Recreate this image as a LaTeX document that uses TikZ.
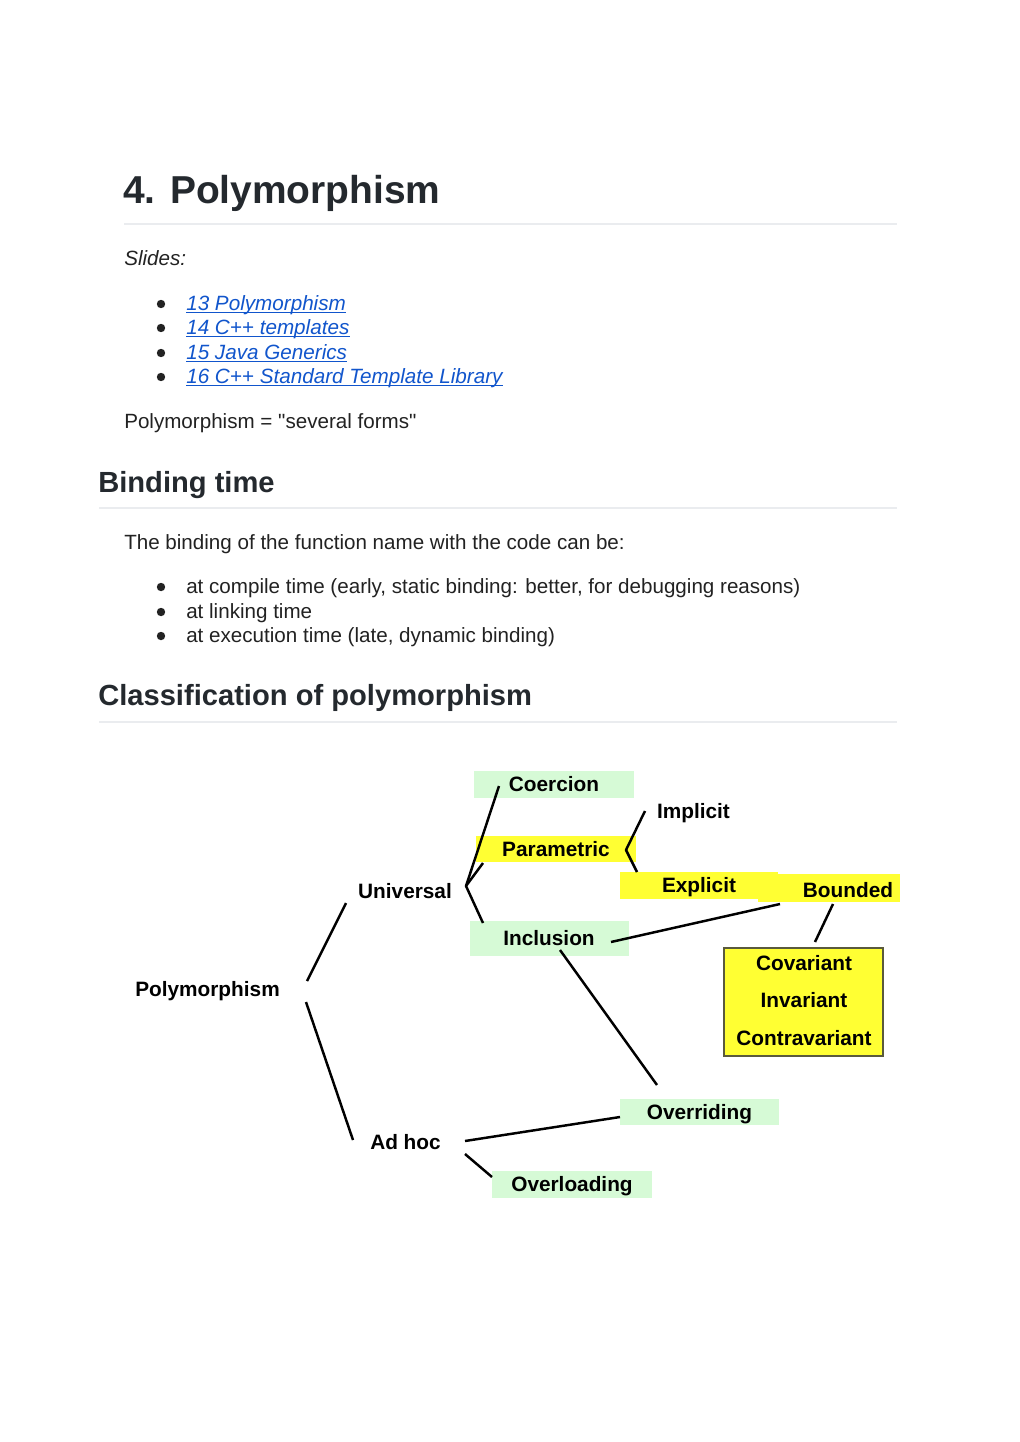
\documentclass[tikz,border=0pt]{standalone}
\usepackage{fontspec}
\setmainfont{Liberation Sans}
\newfontfamily\plainsans{Liberation Sans}
\definecolor{textc}{RGB}{34,34,34}
\definecolor{titlec}{RGB}{36,41,46}
\definecolor{linkc}{RGB}{17,85,204}
\definecolor{rulec}{RGB}{234,236,239}
\definecolor{greenc}{RGB}{214,250,214}
\definecolor{yellowc}{RGB}{255,255,51}
\definecolor{borderc}{RGB}{90,90,60}
\newcommand{\dq}{{\plainsans"}}
\begin{document}
\begin{tikzpicture}[x=0.75pt,y=-0.75pt,
  txt/.style={anchor=base west, inner sep=0pt, text=textc, font=\fontsize{15.45}{18}\selectfont},
  hone/.style={txt, text=titlec, font=\fontsize{29.2}{34}\selectfont\bfseries},
  htwo/.style={txt, text=titlec, font=\fontsize{21.85}{26}\selectfont\bfseries},
  lnk/.style={txt, text=linkc, font=\fontsize{15.5}{18}\selectfont\itshape},
  bul/.style={circle, fill=textc, inner sep=0pt, minimum size=6.3pt},
  hrule/.style={draw=rulec, line width=0.9pt},
  lbl/.style={anchor=base, inner sep=0pt, text=black, font=\fontsize{15.6}{18}\selectfont\bfseries},
  box/.style={rectangle, inner sep=0pt, text=black, text height=11.1pt, text depth=0pt, font=\fontsize{15.6}{18}\selectfont\bfseries},
  gbox/.style={box, fill=greenc},
  ybox/.style={box, fill=yellowc},
  conn/.style={line width=1.85pt, black, line join=round}
]
\useasboundingbox (0,0) rectangle (1020,1442);
\fill[white] (0,0) rectangle (1020,1442);

% Title
\node[hone] (title) at (123,203) {4. Polymorphism};
\draw[hrule] (124,224) -- (897,224);
\node[txt, font=\fontsize{15.45}{18}\selectfont\itshape] (slides) at (124,265) {Slides:};
\node[bul] (b1) at (161,304) {};
\node[bul] (b2) at (161,328) {};
\node[bul] (b3) at (161,353) {};
\node[bul] (b4) at (161,377) {};
\node[lnk] (l1) at (186,310) {13 Polymorphism};
\node[lnk] (l2) at (186,334) {14 C++ templates};
\node[lnk] (l3) at (186,359) {15 Java Generics};
\node[lnk] (l4) at (186,383) {16 C++ Standard Template Library};
\foreach \n in {l1,l2,l3,l4}{
  \draw[linkc, line width=0.8pt] ([yshift=-1.6pt]\n.base west) -- ([yshift=-1.6pt]\n.base east);
}
\node[txt] (def) at (124,428) {Polymorphism = \dq several forms\dq};

% Binding time
\node[htwo] (bt) at (98,492) {Binding time};
\draw[hrule] (99,508) -- (897,508);
\node[txt] (btp) at (124,549) {The binding of the function name with the code can be:};
\node[bul] (c1) at (161,587) {};
\node[bul] (c2) at (161,612) {};
\node[bul] (c3) at (161,636) {};
\node[txt] (bt1) at (186,593) {at compile time (early, static binding: better, for debugging reasons)};
\node[txt] (bt2) at (186,618) {at linking time};
\node[txt] (bt3) at (186,642) {at execution time (late, dynamic binding)};

% Classification
\node[htwo] (cl) at (98,705) {Classification of polymorphism};
\draw[hrule] (99,722) -- (897,722);

% Diagram boxes
\node[gbox, minimum width=120pt, minimum height=20.25pt] (coer) at (554,784.5) {Coercion};
\node[ybox, minimum width=120pt, minimum height=19.5pt] (param) at (556,849) {Parametric};
\node[ybox, minimum width=106.5pt, minimum height=21pt] (bndbox) at (829,888) {};
\node[ybox, minimum width=118.5pt, minimum height=20.25pt] (expl) at (699,885.5) {Explicit};
\node[lbl] (bnd) at (848,897) {Bounded};
\node[gbox, minimum width=119.25pt, minimum height=26.25pt] (incl) at (549,938.5) {Inclusion};
\node[rectangle, fill=yellowc, draw=borderc, line width=1pt, minimum width=119.25pt, minimum height=81pt] (varbox) at (803.5,1002) {};
\node[lbl] (cov) at (804,970) {Covariant};
\node[lbl] (inv) at (804,1007) {Invariant};
\node[lbl] (contra) at (804,1045) {Contravariant};
\node[gbox, minimum width=119.25pt, minimum height=19.5pt] (over) at (699.5,1112) {Overriding};
\node[gbox, minimum width=120pt, minimum height=20.25pt] (ovl) at (572,1184.5) {Overloading};

% Plain labels
\node[lbl] (poly) at (207.5,996) {Polymorphism};
\node[lbl] (univ) at (405,898) {Universal};
\node[lbl] (adhoc) at (405.5,1149) {Ad hoc};
\node[lbl] (impl) at (693.5,818) {Implicit};

% Connector end points
\coordinate (pU) at (307,981);
\coordinate (uP) at (346,903);
\coordinate (pA) at (306,1002);
\coordinate (aP) at (353,1140);
\coordinate (uv) at (466,886);
\coordinate (uC) at (499,786);
\coordinate (uPa) at (483,863);
\coordinate (uI) at (483,923);
\coordinate (pv) at (626,850);
\coordinate (pIm) at (645,811);
\coordinate (pEx) at (637,872);
\coordinate (iB) at (611,942);
\coordinate (bI) at (780,904);
\coordinate (bV) at (833,904);
\coordinate (vB) at (815,942);
\coordinate (iO) at (560,950);
\coordinate (oI) at (657,1085);
\coordinate (aO) at (465,1141);
\coordinate (oA) at (620,1117);
\coordinate (aL) at (465,1154);
\coordinate (lA) at (492,1177);

\draw[conn] (pU) -- (uP);
\draw[conn] (pA) -- (aP);
\draw[conn] (uC) -- (uv) -- (uI);
\draw[conn] (uPa) -- (uv);
\draw[conn] (pIm) -- (pv) -- (pEx);
\draw[conn] (iB) -- (bI);
\draw[conn] (bV) -- (vB);
\draw[conn] (iO) -- (oI);
\draw[conn] (aO) -- (oA);
\draw[conn] (aL) -- (lA);
\end{tikzpicture}
\end{document}
